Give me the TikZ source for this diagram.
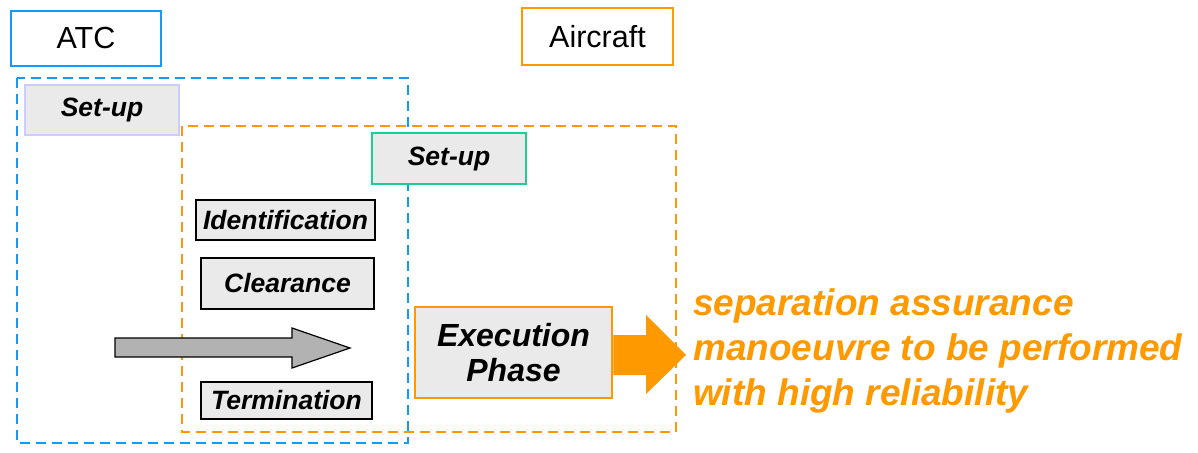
\documentclass[tikz,border=0pt]{standalone}
\usepackage{fontspec}
\setmainfont{Liberation Sans}
\definecolor{atcblue}{RGB}{20,155,250}
\definecolor{acorange}{RGB}{255,153,0}
\definecolor{lav}{RGB}{204,204,255}
\definecolor{setgreen}{RGB}{30,205,150}
\definecolor{boxgray}{RGB}{234,234,234}
\definecolor{arrowgray}{RGB}{178,178,178}
\begin{document}
\begin{tikzpicture}[x=1pt,y=-1pt,
  actor/.style={draw, line width=2.5pt, inner sep=0pt, font=\fontsize{30.5}{34}\selectfont},
  phase/.style={draw, line width=2.5pt, fill=boxgray, inner sep=0pt, font=\fontsize{26.5}{30}\selectfont\bfseries\itshape},
  zone/.style={line width=2.8pt, dash pattern=on 10pt off 6pt},
  outtext/.style={anchor=base west, inner sep=0pt, text=acorange, font=\fontsize{37}{45}\selectfont\bfseries\itshape}]
\useasboundingbox (0,0) rectangle (1198,452);
% dashed zones
\draw[zone, atcblue] (17,78) rectangle (408,443);
\draw[zone, acorange] (182,126) rectangle (676,432);
% actor labels
\node[actor, draw=atcblue, minimum width=150pt, minimum height=55pt] (atc) at (86,38.5) {ATC};
\node[actor, draw=acorange, minimum width=151pt, minimum height=57pt] (ac) at (597.5,36.5) {Aircraft};
% phases
\node[phase, draw=lav, minimum width=154pt, minimum height=50pt] (setup1) at (102,110) {Set-up};
\node[phase, draw=setgreen, minimum width=154pt, minimum height=51pt] (setup2) at (449,158.5) {Set-up};
\node[phase, draw=black, minimum width=179pt, minimum height=40pt] (ident) at (285.5,220) {Identification};
\node[phase, draw=black, minimum width=173pt, minimum height=51pt] (clear) at (287.5,283.5) {Clearance};
\node[phase, draw=black, minimum width=171pt, minimum height=37pt] (term) at (286.5,400.5) {Termination};
\node[phase, draw=acorange, minimum width=197pt, minimum height=91pt, align=center,
      font=\fontsize{32}{35}\selectfont\bfseries\itshape] (exec) at (513.5,352.5) {Execution\\Phase};
% gray arrow
\draw[line width=1.2pt, fill=arrowgray] (115,338) -- (292,338) -- (292,328) -- (350,348)
  -- (292,368) -- (292,357) -- (115,357) -- cycle;
% orange arrow from execution phase
\coordinate (oa) at (exec.east);
\fill[acorange] ([yshift=17.5pt]oa) -- (646,335) -- (646,315) -- (686,355) -- (646,394)
  -- (646,375) -- ([yshift=-22.5pt]oa) -- cycle;
% outcome text
\node[outtext] (o1) at (693,315) {separation assurance};
\node[outtext] (o2) at (693,360) {manoeuvre to be performed};
\node[outtext] (o3) at (693,405) {with high reliability};
\end{tikzpicture}
\end{document}
